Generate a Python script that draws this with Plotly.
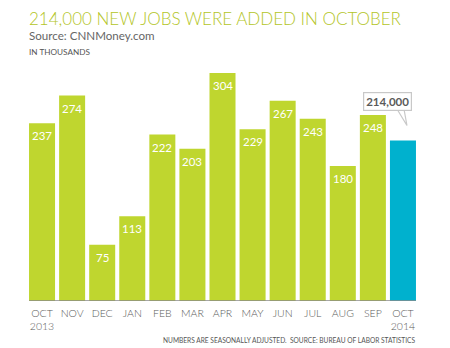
import plotly.graph_objects as go

months = ["OCT", "NOV", "DEC", "JAN", "FEB", "MAR", "APR", "MAY", "JUN", "JUL", "AUG", "SEP", "OCT"]
years = {0: "2013", 12: "2014"}
jobs = [237, 274, 75, 113, 222, 203, 304, 229, 267, 243, 180, 248, 214]
highlight_label = "214,000"

GREEN = "#bfd62f"
BLUE = "#00b1ce"
FONT = "Lato"

x = list(range(len(months)))
colors = [GREEN] * (len(jobs) - 1) + [BLUE]
ticktext = [m + ("<br>" + years[i] if i in years else "") for i, m in enumerate(months)]

fig = go.Figure()
fig.add_trace(go.Bar(x=x, y=jobs, marker=dict(color=colors, line=dict(width=0)),
                     hoverinfo="skip"))

annotations = []
for i, v in enumerate(jobs[:-1]):
    annotations.append(dict(x=i, y=v, xref="x", yref="y", text=str(v), showarrow=False,
                            yanchor="top", yshift=-4,
                            font=dict(family=FONT, size=11.5, weight=400, color="white")))
# callout
annotations.append(dict(x=12, y=jobs[-1], xref="x", yref="y", text="<b>" + highlight_label + "</b>",
                        showarrow=False, xshift=-15, yshift=39, yanchor="middle",
                        bgcolor="white", bordercolor="#c8c8c8", borderwidth=1.2, borderpad=2,
                        font=dict(family=FONT, size=11.5, color="#5a5a5a")))
# titles
annotations.append(dict(x=0, y=1, xref="paper", yref="paper", text="214,000 NEW JOBS WERE ADDED IN OCTOBER",
                        showarrow=False, xanchor="left", yanchor="middle", xshift=0, yshift=43,
                        font=dict(family=FONT, size=17, weight=300, color="#b3c527")))
annotations.append(dict(x=0, y=1, xref="paper", yref="paper", text="Source: CNNMoney.com",
                        showarrow=False, xanchor="left", yanchor="middle", xshift=0, yshift=26,
                        font=dict(family=FONT, size=11.6, weight=400, color="#666666")))
annotations.append(dict(x=0, y=1, xref="paper", yref="paper", text="IN THOUSANDS",
                        showarrow=False, xanchor="left", yanchor="middle", xshift=0, yshift=9,
                        font=dict(family=FONT, size=8.2, weight=400, color="#555555")))
annotations.append(dict(x=1, y=0, xref="paper", yref="paper",
                        text="NUMBERS ARE SEASONALLY ADJUSTED.  SOURCE: BUREAU OF LABOR STATISTICS",
                        showarrow=False, xanchor="right", yanchor="middle", xshift=-1, yshift=-39,
                        font=dict(family=FONT, size=6.6, weight=400, color="#555555")))

shapes = [
    dict(type="line", xref="x", yref="y", x0=-0.43, x1=len(months) - 0.57, y0=0, y1=0,
         line=dict(color="#8a8a8a", width=1.5), layer="above"),
    # callout tail (white cover + gray outline)
    dict(type="path", xref="x", yref="y", xsizemode="pixel", ysizemode="pixel",
         xanchor=12, yanchor=jobs[-1],
         path="M -5.5,32.5 L 4,15 L 0.5,32.5 Z", fillcolor="white", line=dict(width=0), layer="above"),
    dict(type="path", xref="x", yref="y", xsizemode="pixel", ysizemode="pixel",
         xanchor=12, yanchor=jobs[-1],
         path="M -6,31.5 L 4,15 L 1,31.5", line=dict(color="#c8c8c8", width=1.2), layer="above"),
]

fig.update_layout(
    width=450, height=348,
    margin=dict(l=27.3, r=32.3, t=61, b=47, pad=0),
    paper_bgcolor="white", plot_bgcolor="white",
    bargap=0.135, showlegend=False,
    xaxis=dict(range=[-0.5, len(months) - 0.5], tickvals=x, ticktext=ticktext,
               showgrid=False, zeroline=False, showline=False, ticks="", ticklabelstandoff=4,
               tickfont=dict(family=FONT, size=10.5, weight=300, color="#5a5a5a"), fixedrange=True),
    yaxis=dict(range=[0, 320], visible=False, fixedrange=True),
    annotations=annotations, shapes=shapes,
)

fig.write_html("out.html", config={"displayModeBar": False})
